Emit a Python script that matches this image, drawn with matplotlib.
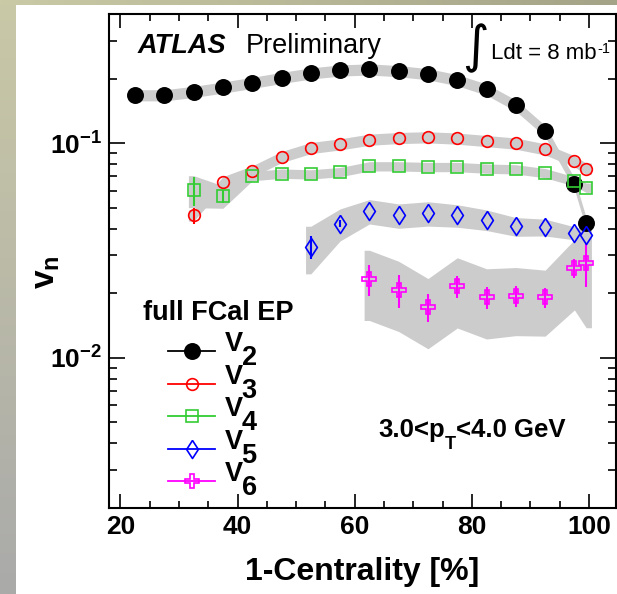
import numpy as np
import matplotlib.pyplot as plt
from matplotlib.lines import Line2D
from matplotlib.ticker import MultipleLocator, FuncFormatter, NullFormatter, LogLocator

plt.rcParams['font.family'] = 'Liberation Sans'
plt.rcParams['mathtext.fontset'] = 'custom'
plt.rcParams['mathtext.rm'] = 'Liberation Sans'
plt.rcParams['mathtext.bf'] = 'Liberation Sans:bold'
plt.rcParams['mathtext.it'] = 'Liberation Sans:italic'

# 1-centrality bin centres [%]
cent = [22.5, 27.5, 32.5, 37.5, 42.5, 47.5, 52.5, 57.5, 62.5, 67.5,
        72.5, 77.5, 82.5, 87.5, 92.5, 97.5, 99.5]

v2 = [0.1675, 0.1675, 0.1737, 0.182, 0.1913, 0.2018, 0.2117, 0.2186, 0.2210,
      0.217, 0.210, 0.197, 0.178, 0.150, 0.1141, 0.0648, 0.0425]
v2_err = [0.0] * 17
v2_sys = [0.06] * 17

v3 = [0.0461, 0.0659, 0.0740, 0.0863, 0.0951, 0.0989, 0.1040, 0.1059, 0.1067,
      0.1052, 0.1025, 0.0997, 0.0937, 0.0824, 0.0762]
v3_err = [0.004] + [0.0] * 14
v3_sys = [0.06] * 15

v4 = [0.0603, 0.0565, 0.0703, 0.0722, 0.0716, 0.0734, 0.0781, 0.0781, 0.0775,
      0.0775, 0.0762, 0.0756, 0.0726, 0.0664, 0.0621]
v4_err = [0.0095, 0.004] + [0.0] * 13
v4_sys = [0.17, 0.12] + [0.05] * 13

v5 = [0.0328, 0.0422, 0.0483, 0.0461, 0.0472, 0.0461, 0.0440, 0.0409, 0.0406,
      0.0381, 0.0372]
v5_err = [0.004, 0.0015] + [0.0] * 9
v5_sys = [0.25, 0.17, 0.13, 0.13, 0.13, 0.12, 0.11, 0.10, 0.09, 0.07, 0.06]

v6 = [0.0233, 0.0207, 0.0172, 0.0215, 0.0191, 0.0195, 0.0191, 0.0261, 0.0276]
v6_err = [0.0038, 0.0036, 0.0026, 0.0026, 0.0023, 0.0022, 0.0020, 0.0026, 0.0062]
v6_sys = [0.36, 0.36, 0.36, 0.36, 0.36, 0.35, 0.34, 0.36, 0.5]

fig = plt.figure(figsize=(6.17, 5.94), dpi=100)

# slide background strips
grad = np.linspace(0, 1, 256)
top_c = np.array([203, 202, 166]) + np.outer(grad, np.array([164, 163, 135]) - np.array([203, 202, 166]))
left_c = np.array([201, 200, 166]) + np.outer(grad, np.array([170, 170, 170]) - np.array([201, 200, 166]))
ax_l = fig.add_axes([0, 0, 16 / 617, 1])
ax_l.imshow(left_c[:, None, :] / 255, aspect='auto')
ax_l.axis('off')
ax_t = fig.add_axes([0, 1 - 5 / 594, 1, 5 / 594])
ax_t.imshow(top_c[None, :, :] / 255, aspect='auto')
ax_t.axis('off')

ax = fig.add_axes([0.1762, 0.1453, 0.8222, 0.8311])

diamond = [(0, 1), (0.65, 0), (0, -1), (-0.65, 0), (0, 1)]
series = [
    (cent, v2, v2_err, v2_sys, 'black', 'o', 'black', 11),
    (cent[2:], v3, v3_err, v3_sys, '#ff0000', 'o', 'none', 8.4),
    (cent[2:], v4, v4_err, v4_sys, '#33cc33', 's', 'none', 8.4),
    (cent[6:], v5, v5_err, v5_sys, '#0000ff', diamond, 'none', 13),
    (cent[8:], v6, v6_err, v6_sys, '#ff00ff', 'P', 'none', 10),
]

# systematic bands
for x, y, err, sys, c, m, mfc, ms in series:
    x = np.array(x)
    y = np.array(y)
    s = np.array(sys)
    xb = np.r_[x[0] - 0.9, x, x[-1] + 0.9]
    yb = np.r_[y[0], y, y[-1]]
    sb = np.r_[s[0], s, s[-1]]
    ax.fill_between(xb, yb * (1 - sb), yb * (1 + sb), color='#cccccc', lw=0, zorder=1)

handles = []
for x, y, err, sys, c, m, mfc, ms in series:
    ax.errorbar(x, y, yerr=err, marker=m, ls='none', color=c, ms=ms, mfc=mfc, mec=c, mew=1.2,
                elinewidth=1.5, capsize=0, zorder=3)
    handles.append(Line2D([], [], color=c, marker=m, ms=ms, mfc=mfc, mec=c, mew=1.2, lw=1.3))

ax.set_yscale('log')
ax.set_xlim(18, 104.6)
ax.set_ylim(0.002, 0.4)

ax.xaxis.set_major_locator(MultipleLocator(20))
ax.xaxis.set_minor_locator(MultipleLocator(5))
ax.yaxis.set_major_locator(LogLocator(base=10))
ax.yaxis.set_minor_locator(LogLocator(base=10, subs=np.arange(2, 10)))
ax.yaxis.set_major_formatter(FuncFormatter(lambda v, p: r'$\mathbf{10^{%d}}$' % round(np.log10(v))))
ax.yaxis.set_minor_formatter(NullFormatter())

ax.tick_params(which='both', direction='in', top=True, right=True, width=1.2)
ax.tick_params(axis='x', which='major', length=10, pad=5, labelsize=19)
ax.tick_params(axis='x', which='minor', length=5)
ax.tick_params(axis='y', which='major', length=11.5, pad=5, labelsize=19)
ax.tick_params(axis='y', which='minor', length=5.8)
for lab in ax.get_xticklabels():
    lab.set_fontweight('bold')
for sp in ax.spines.values():
    sp.set_linewidth(1.5)

ax.set_xlabel('1-Centrality [%]', fontsize=23, fontweight='bold', va='center')
ax.xaxis.set_label_coords(0.5, -0.130)
fig.text(47 / 617, 1 - 272 / 594, r'$\mathbf{v_n}$', fontsize=24, rotation=90,
         ha='center', va='center')

ax.text(0.0578, 0.921, 'ATLAS', transform=ax.transAxes, fontsize=19.5,
        fontweight='bold', fontstyle='italic', va='baseline')
ax.text(0.271, 0.921, 'Preliminary', transform=ax.transAxes, fontsize=19.5, va='baseline')

ax.text(0.722, 0.931, r'$\int$', transform=ax.transAxes, fontsize=26,
        math_fontfamily='dejavusans', ha='center', va='center')
lum = ax.text(0.7529, 0.9083, 'Ldt = 8 mb', transform=ax.transAxes, fontsize=16, va='baseline')
ax.annotate('-1', xy=(1, 1), xycoords=lum, xytext=(0.5, 1), textcoords='offset points',
            fontsize=10.5, va='top')

pt1 = ax.text(0.531, 0.1432, '3.0<p', transform=ax.transAxes, fontsize=18.5,
              fontweight='bold', va='baseline')
pt2 = ax.annotate('T', xy=(1, 0), xycoords=pt1, xytext=(0, -5), textcoords='offset points',
                  fontsize=13, fontweight='bold', va='baseline')
ax.annotate('<4.0 GeV', xy=(1, 0), xycoords=(pt2, pt1), xytext=(0, 0), textcoords='offset points',
            fontsize=18.5, fontweight='bold', va='bottom')

ax.text(0.0676, 0.380, 'full FCal EP', transform=ax.transAxes, fontsize=19.5,
        fontweight='bold', va='baseline')
leg = ax.legend(handles, ['V'] * 5, loc='upper left', bbox_to_anchor=(0.1163, 0.338),
                frameon=False, prop={'weight': 'bold', 'size': 19.5}, handlelength=1.76,
                handletextpad=0.35, labelspacing=0.24, borderpad=0, borderaxespad=0)
leg.set_zorder(5)
# legend texts only hold the layout; the visible V sits higher, ROOT style, with a full-size index
for t, s in zip(leg.get_texts(), ['2', '3', '4', '5', '6']):
    t.set_alpha(0)
    vt = ax.annotate('V', xy=(0, 0), xycoords=t, xytext=(0, 7), textcoords='offset points',
                     fontsize=19.5, fontweight='bold', va='bottom', zorder=6)
    ax.annotate(s, xy=(1, 0), xycoords=vt, xytext=(-1, -6), textcoords='offset points',
                fontsize=19.5, fontweight='bold', va='baseline', zorder=7)

fig.savefig('out.png', dpi=100)
